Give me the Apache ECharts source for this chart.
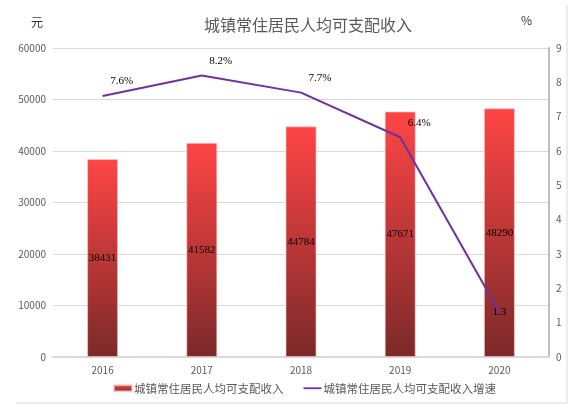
<!DOCTYPE html>
<html lang="zh">
<head>
<meta charset="UTF-8">
<title>城镇常住居民人均可支配收入</title>
<style>
html, body { margin: 0; padding: 0; background: #fff; }
#chart { width: 575px; height: 413px; }
</style>
</head>
<body>
<div id="chart"></div>
<script src="https://cdn.jsdelivr.net/npm/echarts@6/dist/echarts.min.js"></script>
<script>
var years = ['2016', '2017', '2018', '2019', '2020'];
var income = [38431, 41582, 44784, 47671, 48290];
var growth = [7.6, 8.2, 7.7, 6.4, 1.3];
var growthLabels = ['7.6%', '8.2%', '7.7%', '6.4%', '1.3'];

var font = '"Noto Sans CJK SC", "DejaVu Sans", sans-serif';
var serif = '"Liberation Serif", "DejaVu Serif", serif';
var grey = '#595959';

var lineData = growth.map(function (v, i) {
    var item = { value: v, label: { formatter: growthLabels[i] } };
    if (i === growth.length - 1) {
        item.label.position = 'inside';
        item.label.offset = [0, 0];
    }
    return item;
});

var chart = echarts.init(document.getElementById('chart'));
chart.setOption({
    animation: false,
    textStyle: { fontFamily: font },
    title: {
        text: '城镇常住居民人均可支配收入',
        left: 303,
        top: 12,
        textAlign: 'center',
        textStyle: { fontSize: 16, fontWeight: 'normal', color: grey, fontFamily: font }
    },
    legend: {
        bottom: 14,
        left: 108,
        itemGap: 20,
        itemWidth: 18,
        itemHeight: 6,
        textStyle: { fontSize: 11.5, color: grey, padding: [0, 0, 0, -3] },
        data: [
            { name: '城镇常住居民人均可支配收入', icon: 'rect' },
            { name: '城镇常住居民人均可支配收入增速', icon: 'path://M0,0 L20,0 L20,2 L0,2 Z', itemStyle: { color: '#7030a0' } }
        ]
    },
    graphic: [
        { type: 'line', shape: { x1: 16, y1: 403, x2: 567, y2: 403 }, style: { stroke: '#d9d9d9', lineWidth: 1 } },
        { type: 'line', shape: { x1: 567, y1: 5, x2: 567, y2: 403 }, style: { stroke: '#d9d9d9', lineWidth: 1 } }
    ],
    grid: { left: 53, right: 26, top: 48, bottom: 56 },
    xAxis: {
        type: 'category',
        data: years,
        axisLine: { lineStyle: { color: '#d9d9d9', width: 2 } },
        axisTick: { show: false },
        axisLabel: { fontSize: 10, color: grey, margin: 8 }
    },
    yAxis: [
        {
            type: 'value',
            min: 0,
            max: 60000,
            interval: 10000,
            name: '元',
            nameGap: 20,
            nameTextStyle: { fontSize: 12, color: '#333', align: 'right', padding: [0, 10, 0, 0] },
            axisLine: { show: false },
            axisTick: { show: false },
            axisLabel: { fontSize: 10, color: grey, margin: 7, formatter: function (v) { return String(v); } },
            splitLine: { lineStyle: { color: '#d9d9d9', width: 1 } }
        },
        {
            type: 'value',
            min: 0,
            max: 9,
            interval: 1,
            name: '%',
            nameGap: 22,
            nameTextStyle: { fontSize: 12, color: '#333', align: 'right', padding: [0, 17, 0, 0] },
            axisLine: { show: true, lineStyle: { color: '#bfbfbf', width: 2 } },
            axisTick: { show: false },
            axisLabel: { fontSize: 10, color: grey, margin: 7 },
            splitLine: { show: false }
        }
    ],
    series: [
        {
            name: '城镇常住居民人均可支配收入',
            type: 'bar',
            data: income,
            barWidth: 31,
            itemStyle: {
                color: new echarts.graphic.LinearGradient(0, 0, 0, 1, [
                    { offset: 0, color: '#ff4545' },
                    { offset: 1, color: '#7b2929' }
                ]),
                borderColor: 'rgba(255,200,200,0.6)',
                borderWidth: 1
            },
            label: {
                show: true,
                position: 'inside',
                fontSize: 11,
                color: '#000',
                fontFamily: serif
            }
        },
        {
            name: '城镇常住居民人均可支配收入增速',
            type: 'line',
            yAxisIndex: 1,
            data: lineData,
            symbol: 'circle',
            symbolSize: 0,
            showSymbol: true,
            lineStyle: { color: '#7030a0', width: 2 },
            itemStyle: { color: '#7030a0' },
            label: {
                show: true,
                position: 'top',
                offset: [19, -4],
                fontSize: 11,
                color: '#000',
                fontFamily: serif
            }
        }
    ]
});
</script>
</body>
</html>
